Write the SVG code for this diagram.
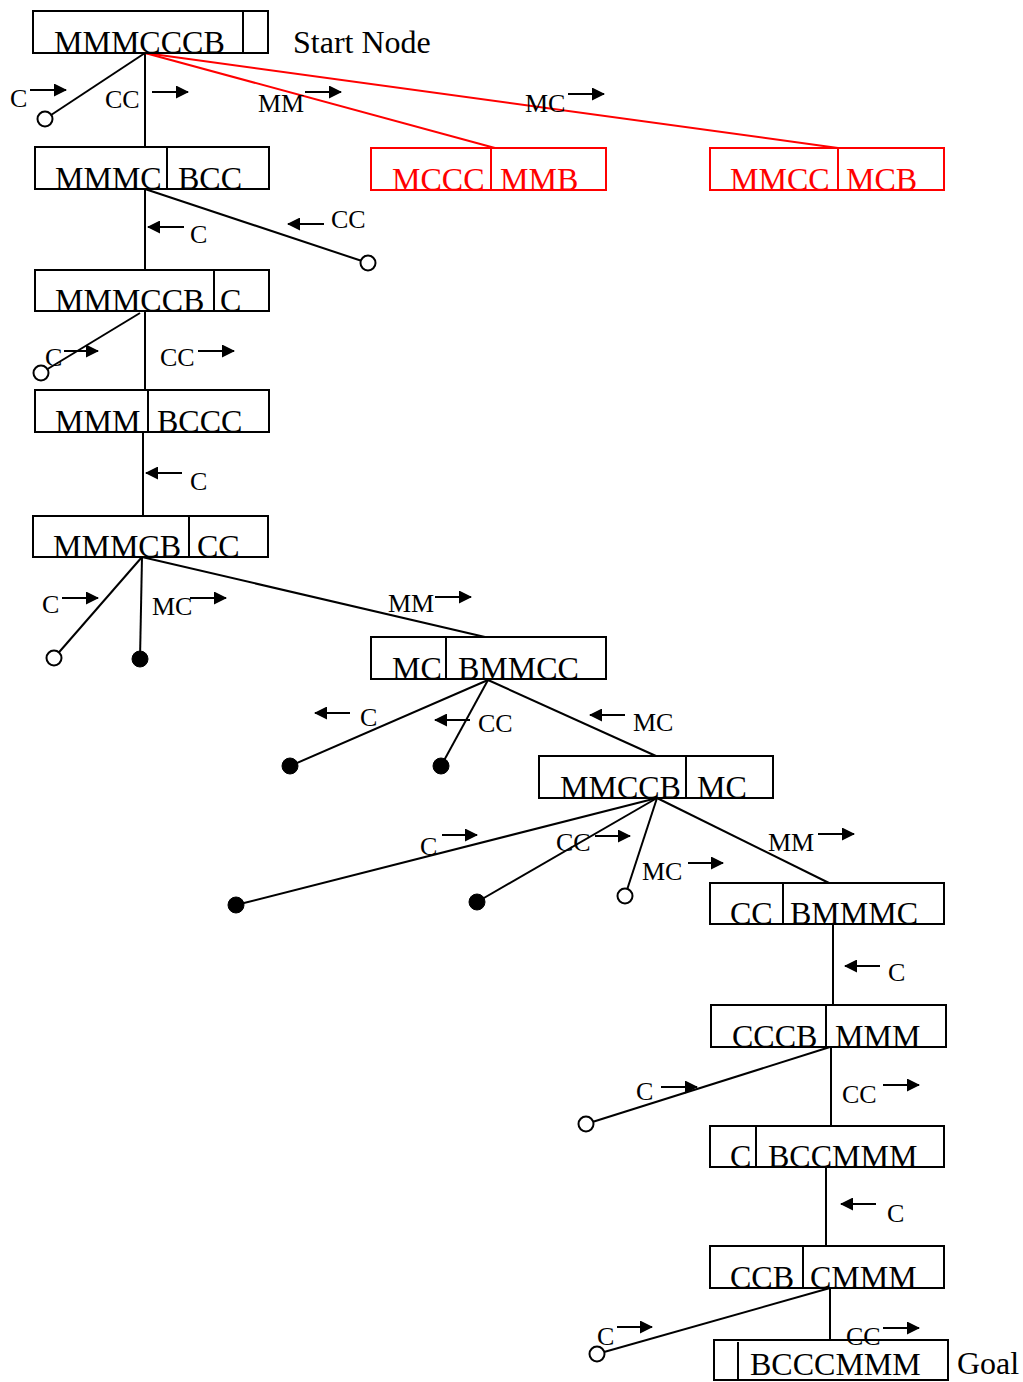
<svg xmlns="http://www.w3.org/2000/svg" width="1023" height="1382" viewBox="0 0 1023 1382">
<style>
.box{fill:none;stroke:#000;stroke-width:2}
.rbox{fill:none;stroke:#f00;stroke-width:2}
.nt{font-family:"Liberation Serif","Times New Roman",serif;font-size:32px;fill:#000}
.rt{font-family:"Liberation Serif","Times New Roman",serif;font-size:32px;fill:#f00}
.lb{font-family:"Liberation Serif","Times New Roman",serif;font-size:26px;fill:#000}
.e{stroke:#000;stroke-width:2;fill:none}
.re{stroke:#f00;stroke-width:2;fill:none}
.ar{stroke:#000;stroke-width:2;fill:none;marker-end:url(#ah)}
.oc{fill:#fff;stroke:#000;stroke-width:2}
.fc{fill:#000;stroke:#000;stroke-width:1}
</style>
<defs>
<marker id="ah" markerUnits="userSpaceOnUse" markerWidth="13" markerHeight="13" viewBox="0 0 13 13" refX="12" refY="6.5" orient="auto">
<path d="M0,0 L13,6.5 L0,13 Z" fill="#000"/>
</marker>
</defs>
<rect width="1023" height="1382" fill="#fff"/>

<g id="connectors">
<line class="e" x1="145" y1="53" x2="45" y2="119"/>
<line class="e" x1="145" y1="53" x2="145" y2="147"/>
<line class="re" x1="145" y1="53" x2="495" y2="148"/>
<line class="re" x1="145" y1="53" x2="838" y2="148"/>
<line class="e" x1="145" y1="189" x2="368" y2="263"/>
<line class="e" x1="145" y1="189" x2="145" y2="270"/>
<line class="e" x1="140" y1="313" x2="41" y2="373"/>
<line class="e" x1="145" y1="311" x2="145" y2="390"/>
<line class="e" x1="143" y1="432" x2="143" y2="516"/>
<line class="e" x1="142" y1="557" x2="54" y2="658"/>
<line class="e" x1="142" y1="557" x2="140" y2="659"/>
<line class="e" x1="142" y1="557" x2="485" y2="637"/>
<line class="e" x1="488" y1="680" x2="290" y2="766"/>
<line class="e" x1="488" y1="680" x2="441" y2="766"/>
<line class="e" x1="488" y1="680" x2="656" y2="756"/>
<line class="e" x1="657" y1="798" x2="236" y2="905"/>
<line class="e" x1="657" y1="798" x2="477" y2="902"/>
<line class="e" x1="657" y1="798" x2="625" y2="896"/>
<line class="e" x1="657" y1="798" x2="829" y2="883"/>
<line class="e" x1="833" y1="924" x2="833" y2="1005"/>
<line class="e" x1="830" y1="1047" x2="586" y2="1124"/>
<line class="e" x1="831" y1="1047" x2="831" y2="1126"/>
<line class="e" x1="826" y1="1167" x2="826" y2="1246"/>
<line class="e" x1="830" y1="1288" x2="597" y2="1354"/>
<line class="e" x1="830" y1="1288" x2="830" y2="1340"/>
</g>

<g id="terminals">
<circle class="oc" cx="45" cy="119" r="7.5"/>
<circle class="oc" cx="368" cy="263" r="7.5"/>
<circle class="oc" cx="41" cy="373" r="7.5"/>
<circle class="oc" cx="54" cy="658" r="7.5"/>
<circle class="fc" cx="140" cy="659" r="8"/>
<circle class="fc" cx="290" cy="766" r="8"/>
<circle class="fc" cx="441" cy="766" r="8"/>
<circle class="fc" cx="236" cy="905" r="8"/>
<circle class="fc" cx="477" cy="902" r="8"/>
<circle class="oc" cx="625" cy="896" r="7.5"/>
<circle class="oc" cx="586" cy="1124" r="7.5"/>
<circle class="oc" cx="597" cy="1354" r="7.5"/>
</g>

<g id="labels">
<text class="lb" x="10" y="107">C</text><line class="ar" x1="30" y1="90" x2="66" y2="90"/>
<text class="lb" x="105" y="108">CC</text><line class="ar" x1="152" y1="92" x2="188" y2="92"/>
<text class="lb" x="258" y="112">MM</text><line class="ar" x1="305" y1="92" x2="341" y2="92"/>
<text class="lb" x="525" y="112">MC</text><line class="ar" x1="568" y1="94" x2="604" y2="94"/>
<text class="lb" x="331" y="228">CC</text><line class="ar" x1="324" y1="224" x2="288" y2="224"/>
<text class="lb" x="190" y="243">C</text><line class="ar" x1="184" y1="227" x2="148" y2="227"/>
<text class="lb" x="45" y="366">C</text><line class="ar" x1="64" y1="351" x2="98" y2="351"/>
<text class="lb" x="160" y="366">CC</text><line class="ar" x1="198" y1="351" x2="234" y2="351"/>
<text class="lb" x="190" y="490">C</text><line class="ar" x1="182" y1="473" x2="146" y2="473"/>
<text class="lb" x="42" y="613">C</text><line class="ar" x1="62" y1="598" x2="98" y2="598"/>
<text class="lb" x="152" y="615">MC</text><line class="ar" x1="190" y1="598" x2="226" y2="598"/>
<text class="lb" x="388" y="612">MM</text><line class="ar" x1="435" y1="597" x2="471" y2="597"/>
<text class="lb" x="360" y="726">C</text><line class="ar" x1="350" y1="713" x2="315" y2="713"/>
<text class="lb" x="478" y="732">CC</text><line class="ar" x1="470" y1="720" x2="435" y2="720"/>
<text class="lb" x="633" y="731">MC</text><line class="ar" x1="625" y1="715" x2="590" y2="715"/>
<text class="lb" x="420" y="855">C</text><line class="ar" x1="442" y1="835" x2="477" y2="835"/>
<text class="lb" x="556" y="851">CC</text><line class="ar" x1="595" y1="836" x2="630" y2="836"/>
<text class="lb" x="642" y="880">MC</text><line class="ar" x1="688" y1="863" x2="723" y2="863"/>
<text class="lb" x="768" y="851">MM</text><line class="ar" x1="818" y1="834" x2="854" y2="834"/>
<text class="lb" x="888" y="981">C</text><line class="ar" x1="880" y1="966" x2="845" y2="966"/>
<text class="lb" x="636" y="1100">C</text><line class="ar" x1="661" y1="1087" x2="697" y2="1087"/>
<text class="lb" x="842" y="1103">CC</text><line class="ar" x1="883" y1="1085" x2="919" y2="1085"/>
<text class="lb" x="887" y="1222">C</text><line class="ar" x1="876" y1="1204" x2="841" y2="1204"/>
<text class="lb" x="597" y="1345">C</text><line class="ar" x1="617" y1="1327" x2="652" y2="1327"/>
<text class="lb" x="846" y="1345">CC</text><line class="ar" x1="883" y1="1328" x2="919" y2="1328"/>
</g>

<g id="n1"><rect class="box" x="33" y="11" width="235" height="42"/><line class="e" x1="243" y1="11" x2="243" y2="53"/><text class="nt" x="54" y="53">MMMCCCB</text><text class="nt" x="293" y="53">Start Node</text></g>
<g id="n2"><rect class="rbox" x="371" y="148" width="235" height="42"/><line class="re" x1="491" y1="148" x2="491" y2="190"/><text class="rt" x="392" y="190">MCCC</text><text class="rt" x="500" y="190">MMB</text></g>
<g id="n3"><rect class="rbox" x="710" y="148" width="234" height="42"/><line class="re" x1="838" y1="148" x2="838" y2="190"/><text class="rt" x="730" y="190">MMCC</text><text class="rt" x="846" y="190">MCB</text></g>
<g id="n4"><rect class="box" x="35" y="147" width="234" height="42"/><line class="e" x1="167" y1="147" x2="167" y2="189"/><text class="nt" x="55" y="189">MMMC</text><text class="nt" x="178" y="189">BCC</text></g>
<g id="n5"><rect class="box" x="35" y="270" width="234" height="41"/><line class="e" x1="214" y1="270" x2="214" y2="311"/><text class="nt" x="55" y="311">MMMCCB</text><text class="nt" x="220" y="311">C</text></g>
<g id="n6"><rect class="box" x="35" y="390" width="234" height="42"/><line class="e" x1="148" y1="390" x2="148" y2="432"/><text class="nt" x="55" y="432">MMM</text><text class="nt" x="157" y="432">BCCC</text></g>
<g id="n7"><rect class="box" x="33" y="516" width="235" height="41"/><line class="e" x1="189" y1="516" x2="189" y2="557"/><text class="nt" x="53" y="557">MMMCB</text><text class="nt" x="197" y="557">CC</text></g>
<g id="n8"><rect class="box" x="371" y="637" width="235" height="42"/><line class="e" x1="446" y1="637" x2="446" y2="679"/><text class="nt" x="392" y="679">MC</text><text class="nt" x="458" y="679">BMMCC</text></g>
<g id="n9"><rect class="box" x="539" y="756" width="234" height="42"/><line class="e" x1="686" y1="756" x2="686" y2="798"/><text class="nt" x="560" y="798">MMCCB</text><text class="nt" x="697" y="798">MC</text></g>
<g id="n10"><rect class="box" x="710" y="883" width="234" height="41"/><line class="e" x1="783" y1="883" x2="783" y2="924"/><text class="nt" x="730" y="924">CC</text><text class="nt" x="790" y="924">BMMMC</text></g>
<g id="n11"><rect class="box" x="711" y="1005" width="235" height="42"/><line class="e" x1="826" y1="1005" x2="826" y2="1047"/><text class="nt" x="732" y="1047">CCCB</text><text class="nt" x="835" y="1047">MMM</text></g>
<g id="n12"><rect class="box" x="710" y="1126" width="234" height="41"/><line class="e" x1="756" y1="1126" x2="756" y2="1167"/><text class="nt" x="730" y="1167">C</text><text class="nt" x="768" y="1167">BCCMMM</text></g>
<g id="n13"><rect class="box" x="710" y="1246" width="234" height="42"/><line class="e" x1="803" y1="1246" x2="803" y2="1288"/><text class="nt" x="730" y="1288">CCB</text><text class="nt" x="810" y="1288">CMMM</text></g>
<g id="n14"><rect class="box" x="714" y="1340" width="234" height="40"/><line class="e" x1="738" y1="1342" x2="738" y2="1380"/><text class="nt" x="750" y="1375">BCCCMMM</text><text class="nt" x="957" y="1374">Goal</text></g>
</svg>
